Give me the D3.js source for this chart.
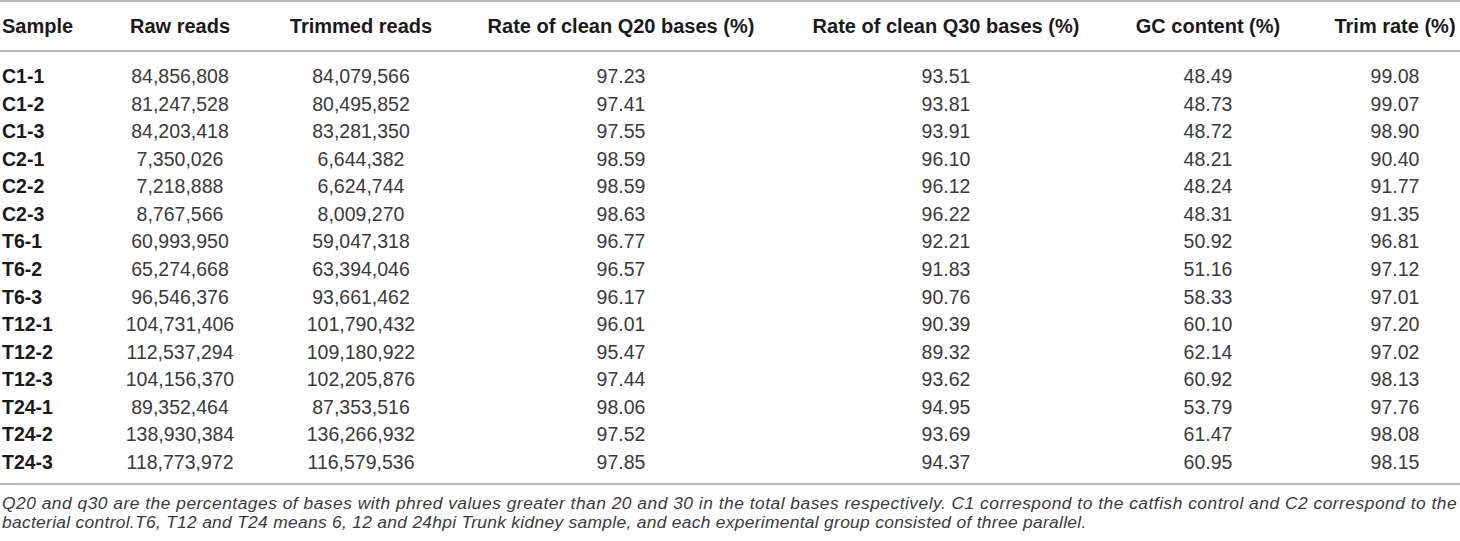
<!DOCTYPE html>
<html>
<head>
<meta charset="utf-8">
<script src="https://cdn.jsdelivr.net/npm/d3@7"></script>
<style>
  html, body { margin: 0; padding: 0; background: #fff; }
  svg { display: block; }
</style>
</head>
<body>
<div id="table"></div>
<script>
// table values
var samples = ['C1-1','C1-2','C1-3','C2-1','C2-2','C2-3','T6-1','T6-2','T6-3',
               'T12-1','T12-2','T12-3','T24-1','T24-2','T24-3'];
var rawReads = ['84,856,808','81,247,528','84,203,418','7,350,026','7,218,888','8,767,566',
                '60,993,950','65,274,668','96,546,376','104,731,406','112,537,294','104,156,370',
                '89,352,464','138,930,384','118,773,972'];
var trimmedReads = ['84,079,566','80,495,852','83,281,350','6,644,382','6,624,744','8,009,270',
                    '59,047,318','63,394,046','93,661,462','101,790,432','109,180,922','102,205,876',
                    '87,353,516','136,266,932','116,579,536'];
var q20 = ['97.23','97.41','97.55','98.59','98.59','98.63','96.77','96.57','96.17',
           '96.01','95.47','97.44','98.06','97.52','97.85'];
var q30 = ['93.51','93.81','93.91','96.10','96.12','96.22','92.21','91.83','90.76',
           '90.39','89.32','93.62','94.95','93.69','94.37'];
var gcContent = ['48.49','48.73','48.72','48.21','48.24','48.31','50.92','51.16','58.33',
                 '60.10','62.14','60.92','53.79','61.47','60.95'];
var trimRate = ['99.08','99.07','98.90','90.40','91.77','91.35','96.81','97.12','97.01',
                '97.20','97.02','98.13','97.76','98.08','98.15'];

var headers = ['Sample','Raw reads','Trimmed reads','Rate of clean Q20 bases (%)',
               'Rate of clean Q30 bases (%)','GC content (%)','Trim rate (%)'];
var footnote = [
  'Q20 and q30 are the percentages of bases with phred values greater than 20 and 30 in the total bases respectively. C1 correspond to the catfish control and C2 correspond to the',
  'bacterial control.T6, T12 and T24 means 6, 12 and 24hpi Trunk kidney sample, and each experimental group consisted of three parallel.'
];

// layout
var width = 1460, height = 541;
var colX = [2, 180, 361, 621, 946, 1208, 1395];   // first column left aligned, rest centred
var columns = [samples, rawReads, trimmedReads, q20, q30, gcContent, trimRate];

var svg = d3.select('#table').append('svg')
    .attr('width', width)
    .attr('height', height);

var y = d3.scalePoint()
    .domain(samples)
    .range([83, 469]);

var ruleColor = '#a3a3a3';
[1, 51, 484].forEach(function(ry) {
    svg.append('line')
      .attr('x1', 0).attr('x2', width)
      .attr('y1', ry).attr('y2', ry)
      .attr('stroke', ruleColor)
      .attr('stroke-width', 1.6);
});

// header row
svg.selectAll('text.head')
    .data(headers)
  .enter().append('text')
    .attr('class', 'head')
    .attr('x', function(d, i) { return colX[i]; })
    .attr('y', 33)
    .attr('text-anchor', function(d, i) { return i === 0 ? 'start' : 'middle'; })
    .style('font-family', '"Liberation Sans", Arial, sans-serif')
    .style('font-weight', 'bold')
    .style('font-size', '20px')
    .style('fill', '#1a1a1a')
    .text(function(d) { return d; });

// body cells
columns.forEach(function(col, ci) {
    svg.append('g').selectAll('text')
        .data(col)
      .enter().append('text')
        .attr('x', colX[ci])
        .attr('y', function(d, ri) { return y(samples[ri]); })
        .attr('text-anchor', ci === 0 ? 'start' : 'middle')
        .style('font-family', '"Liberation Sans", Arial, sans-serif')
        .style('font-weight', ci === 0 ? 'bold' : 'normal')
        .style('font-size', '19.5px')
        .style('fill', ci === 0 ? '#1a1a1a' : '#3a3a3a')
        .text(function(d) { return d; });
});

// footnote, first line is justified to the full width
svg.selectAll('text.note')
    .data(footnote)
  .enter().append('text')
    .attr('class', 'note')
    .attr('x', 2)
    .attr('y', function(d, i) { return 509 + i * 19; })
    .attr('textLength', function(d, i) { return i === 0 ? 1455 : null; })
    .attr('lengthAdjust', 'spacing')
    .style('font-family', '"Liberation Sans", Arial, sans-serif')
    .style('font-style', 'italic')
    .style('font-size', '17.4px')
    .style('letter-spacing', '0.3px')
    .style('fill', '#3a3a3a')
    .text(function(d) { return d; });
</script>
</body>
</html>
